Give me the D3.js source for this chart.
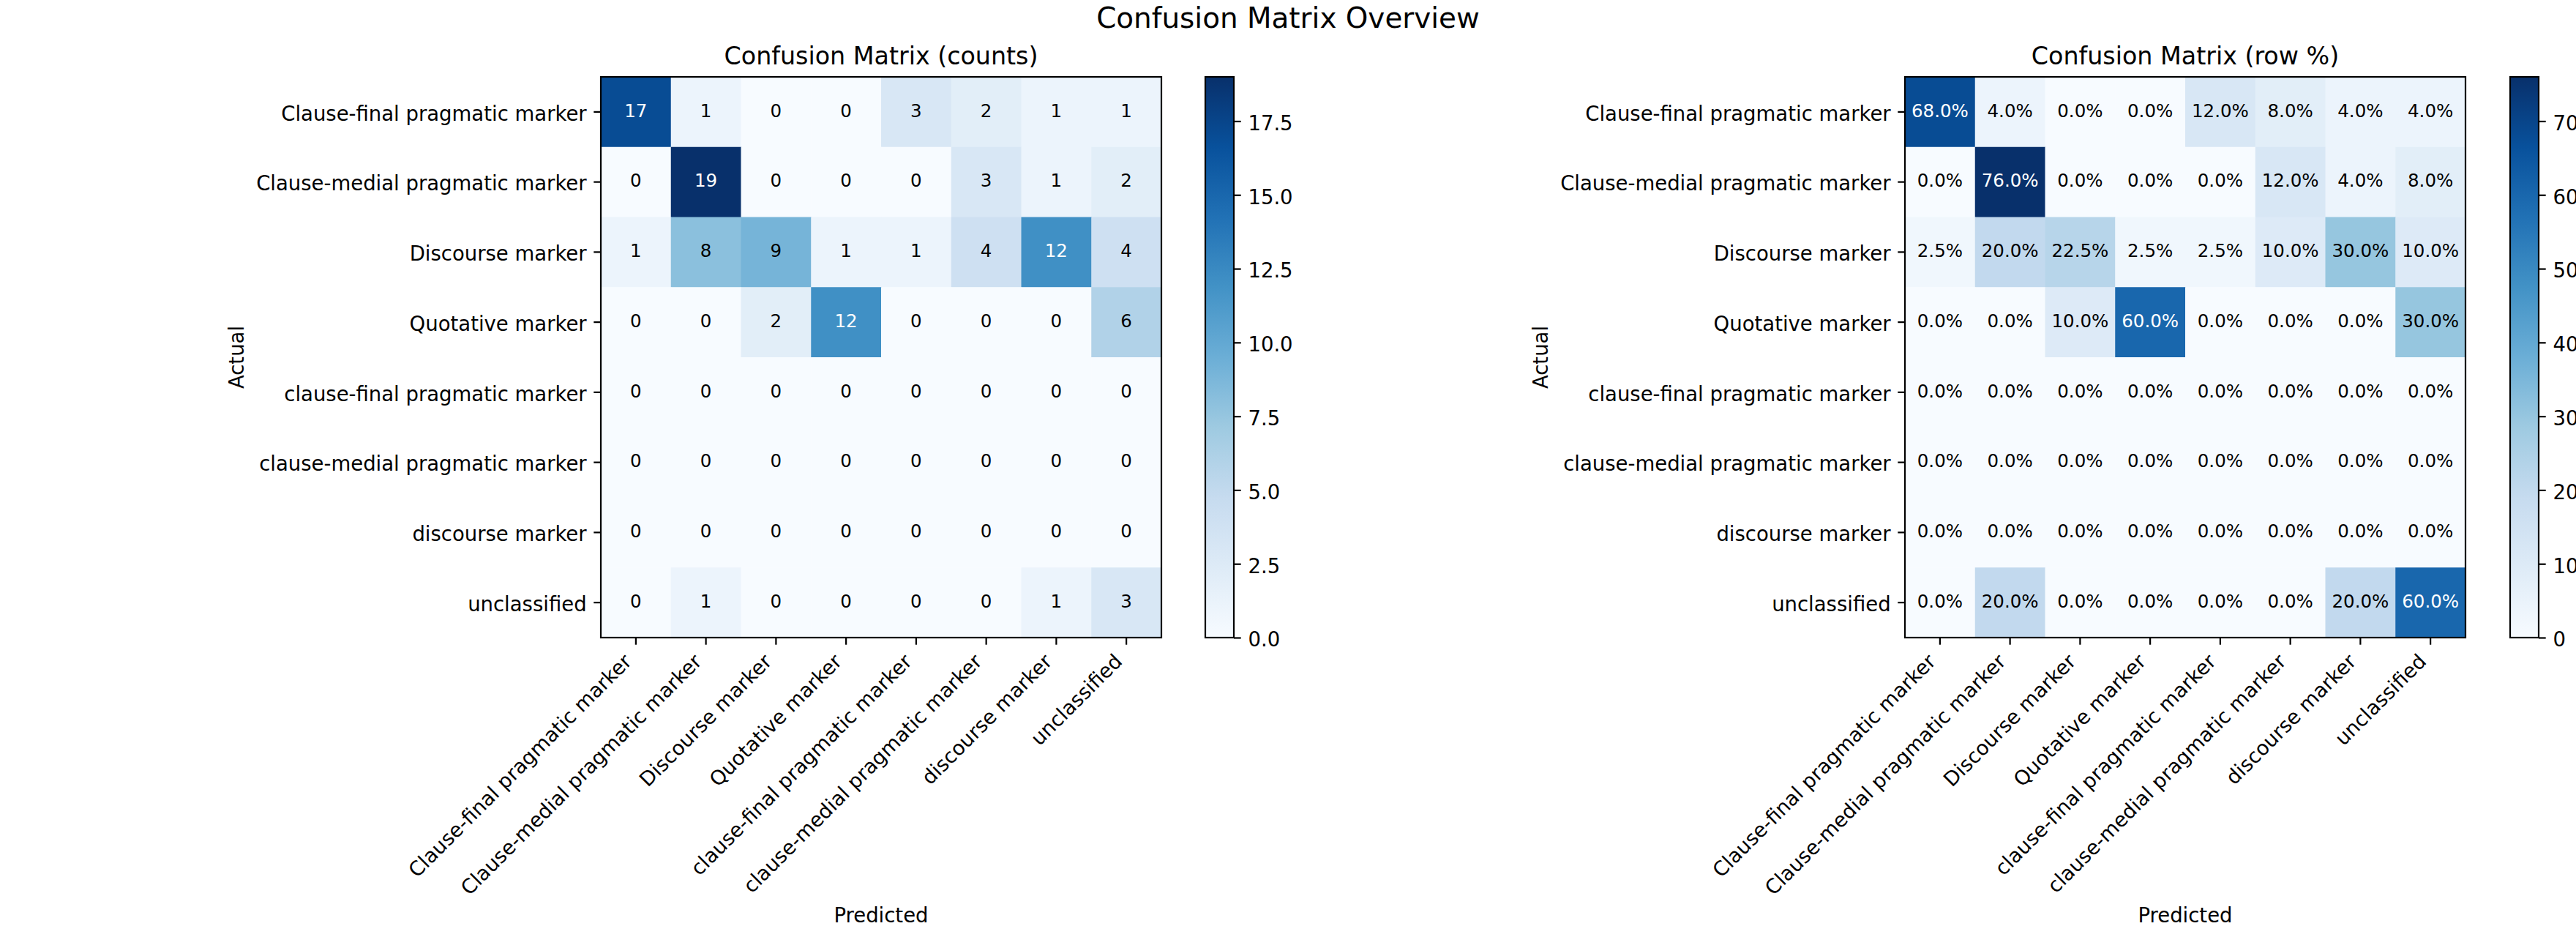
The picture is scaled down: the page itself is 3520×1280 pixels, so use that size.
<!DOCTYPE html>
<html>
<head>
<meta charset="utf-8">
<script src="https://cdn.jsdelivr.net/npm/d3@7"></script>
<style>
  html, body { margin: 0; padding: 0; background: #fff; }
  svg { display: block; }
  text { font-family: "DejaVu Sans", sans-serif; }
</style>
</head>
<body>
<svg id="chart" width="3520" height="1280"></svg>
<script>
// ---------------- data ----------------
const categories = [
  "Clause-final pragmatic marker",
  "Clause-medial pragmatic marker",
  "Discourse marker",
  "Quotative marker",
  "clause-final pragmatic marker",
  "clause-medial pragmatic marker",
  "discourse marker",
  "unclassified"
];

const counts = [
  [17, 1, 0, 0, 3, 2, 1, 1],
  [0, 19, 0, 0, 0, 3, 1, 2],
  [1, 8, 9, 1, 1, 4, 12, 4],
  [0, 0, 2, 12, 0, 0, 0, 6],
  [0, 0, 0, 0, 0, 0, 0, 0],
  [0, 0, 0, 0, 0, 0, 0, 0],
  [0, 0, 0, 0, 0, 0, 0, 0],
  [0, 1, 0, 0, 0, 0, 1, 3]
];

const rowPercent = [
  [68.0, 4.0, 0.0, 0.0, 12.0, 8.0, 4.0, 4.0],
  [0.0, 76.0, 0.0, 0.0, 0.0, 12.0, 4.0, 8.0],
  [2.5, 20.0, 22.5, 2.5, 2.5, 10.0, 30.0, 10.0],
  [0.0, 0.0, 10.0, 60.0, 0.0, 0.0, 0.0, 30.0],
  [0.0, 0.0, 0.0, 0.0, 0.0, 0.0, 0.0, 0.0],
  [0.0, 0.0, 0.0, 0.0, 0.0, 0.0, 0.0, 0.0],
  [0.0, 0.0, 0.0, 0.0, 0.0, 0.0, 0.0, 0.0],
  [0.0, 20.0, 0.0, 0.0, 0.0, 0.0, 20.0, 60.0]
];

const countTicks = [0, 2.5, 5, 7.5, 10, 12.5, 15, 17.5];
const percentTicks = [0, 10, 20, 30, 40, 50, 60, 70];

const suptitle = "Confusion Matrix Overview";
const titles = ["Confusion Matrix (counts)", "Confusion Matrix (row %)"];
const xLabel = "Predicted";
const yLabel = "Actual";

// matplotlib "Blues" anchor colours (linear segments)
const bluesColors = ["#f7fbff","#deebf7","#c6dbef","#9ecae1","#6baed6","#4292c6","#2171b5","#08519c","#08306b"];

// ---------------- layout ----------------
const svg = d3.select("#chart");
svg.append("rect").attr("width", 3520).attr("height", 1280).attr("fill", "#fff");

const TICK_FS = 27.5, TITLE_FS = 33.3, SUP_FS = 38.9, CELL_FS = 24.5;
const TL = 9.7, TP = 9.7, LW = 2.2;
const plotTop = 105, plotSize = 766;

const cmapPos = d3.range(bluesColors.length).map(i => i / (bluesColors.length - 1));
const cmap = d3.scaleLinear().domain(cmapPos).range(bluesColors).interpolate(d3.interpolateRgb).clamp(true);

const panels = [
  { left: 821, cbX: 1647, cbW: 39, values: counts, vmax: d3.max(counts.flat()),
    ticks: countTicks, tickFmt: d3.format(".1f"), cellFmt: v => String(v), title: titles[0] },
  { left: 2603, cbX: 3430, cbW: 39, values: rowPercent, vmax: d3.max(rowPercent.flat()),
    ticks: percentTicks, tickFmt: d3.format("d"), cellFmt: v => v.toFixed(1) + "%", title: titles[1] }
];

svg.append("text")
  .attr("x", 1760).attr("y", 38)
  .attr("text-anchor", "middle")
  .attr("font-size", SUP_FS)
  .text(suptitle);

const defs = svg.append("defs");

panels.forEach((p, pi) => {
  const g = svg.append("g");
  const x = d3.scaleBand().domain(d3.range(categories.length)).range([p.left, p.left + plotSize]).padding(0);
  const y = d3.scaleBand().domain(d3.range(categories.length)).range([plotTop, plotTop + plotSize]).padding(0);
  const color = v => cmap(v / p.vmax);

  // cells
  const cells = [];
  p.values.forEach((row, r) => row.forEach((v, c) => cells.push({ r, c, v })));
  g.selectAll("rect.cell").data(cells).enter().append("rect")
    .attr("class", "cell")
    .attr("x", d => x(d.c))
    .attr("y", d => y(d.r))
    .attr("width", x.bandwidth() + 0.6)
    .attr("height", y.bandwidth() + 0.6)
    .attr("fill", d => color(d.v));

  // cell annotations
  g.selectAll("text.cell").data(cells).enter().append("text")
    .attr("class", "cell")
    .attr("x", d => x(d.c) + x.bandwidth() / 2)
    .attr("y", d => y(d.r) + y.bandwidth() / 2)
    .attr("dy", "0.28em")
    .attr("text-anchor", "middle")
    .attr("font-size", CELL_FS)
    .attr("fill", d => d.v > p.vmax / 2 ? "#fff" : "#000")
    .text(d => p.cellFmt(d.v));

  // spines
  g.append("rect")
    .attr("x", p.left).attr("y", plotTop)
    .attr("width", plotSize).attr("height", plotSize)
    .attr("fill", "none").attr("stroke", "#000").attr("stroke-width", LW);

  // y axis
  const yAxis = g.append("g").attr("transform", `translate(${p.left},0)`)
    .call(d3.axisLeft(y).tickFormat(i => categories[i]).tickSize(TL).tickPadding(TP));
  yAxis.select(".domain").remove();
  yAxis.selectAll(".tick line").attr("stroke-width", LW).attr("stroke", "#000");
  yAxis.selectAll(".tick text").attr("font-size", TICK_FS).attr("fill", "#000")
    .attr("font-family", "DejaVu Sans").attr("dy", "0.43em");

  // x axis
  const xAxis = g.append("g").attr("transform", `translate(0,${plotTop + plotSize})`)
    .call(d3.axisBottom(x).tickFormat(i => categories[i]).tickSize(TL).tickPadding(TP));
  xAxis.select(".domain").remove();
  xAxis.selectAll(".tick line").attr("stroke-width", LW).attr("stroke", "#000");
  const asc = 0.76 * TICK_FS, desc = 0.208 * TICK_FS, s45 = Math.SQRT1_2;
  xAxis.selectAll(".tick text")
    .attr("font-size", TICK_FS).attr("fill", "#000").attr("font-family", "DejaVu Sans")
    .attr("text-anchor", "end")
    .attr("x", 0).attr("y", 0).attr("dy", null)
    .attr("transform", `translate(${-s45 * desc},${TL + TP + s45 * asc}) rotate(-45)`);

  // y label: placed left of widest tick label
  let maxW = 0;
  yAxis.selectAll(".tick text").each(function () { maxW = Math.max(maxW, this.getComputedTextLength()); });
  const yLabX = p.left - TL - TP - maxW - 11 - desc;
  g.append("text")
    .attr("transform", `translate(${yLabX},${plotTop + plotSize / 2}) rotate(-90)`)
    .attr("text-anchor", "middle")
    .attr("font-size", TICK_FS)
    .text(yLabel);

  // x label: below rotated tick labels
  let maxL = 0;
  xAxis.selectAll(".tick text").each(function () { maxL = Math.max(maxL, this.getComputedTextLength()); });
  const xLabY = plotTop + plotSize + TL + TP + s45 * (maxL + asc + desc) + 11 + asc;
  g.append("text")
    .attr("x", p.left + plotSize / 2).attr("y", xLabY)
    .attr("text-anchor", "middle")
    .attr("font-size", TICK_FS)
    .text(xLabel);

  // title
  g.append("text")
    .attr("x", p.left + plotSize / 2).attr("y", 88)
    .attr("text-anchor", "middle")
    .attr("font-size", TITLE_FS)
    .text(p.title);

  // colorbar
  const gradId = "grad" + pi;
  const grad = defs.append("linearGradient").attr("id", gradId)
    .attr("x1", 0).attr("y1", 1).attr("x2", 0).attr("y2", 0);
  cmapPos.forEach((t, i) => grad.append("stop").attr("offset", t).attr("stop-color", bluesColors[i]));
  g.append("rect")
    .attr("x", p.cbX).attr("y", plotTop).attr("width", p.cbW).attr("height", plotSize)
    .attr("fill", `url(#${gradId})`);
  g.append("rect")
    .attr("x", p.cbX).attr("y", plotTop).attr("width", p.cbW).attr("height", plotSize)
    .attr("fill", "none").attr("stroke", "#000").attr("stroke-width", LW);
  const cbScale = d3.scaleLinear().domain([0, p.vmax]).range([plotTop + plotSize, plotTop]);
  const cbAxis = g.append("g").attr("transform", `translate(${p.cbX + p.cbW},0)`)
    .call(d3.axisRight(cbScale).tickValues(p.ticks).tickFormat(p.tickFmt).tickSize(TL).tickPadding(TP));
  cbAxis.select(".domain").remove();
  cbAxis.selectAll(".tick line").attr("stroke-width", LW).attr("stroke", "#000");
  cbAxis.selectAll(".tick text").attr("font-size", TICK_FS).attr("fill", "#000")
    .attr("font-family", "DejaVu Sans").attr("dy", "0.43em");
});
</script>
</body>
</html>
